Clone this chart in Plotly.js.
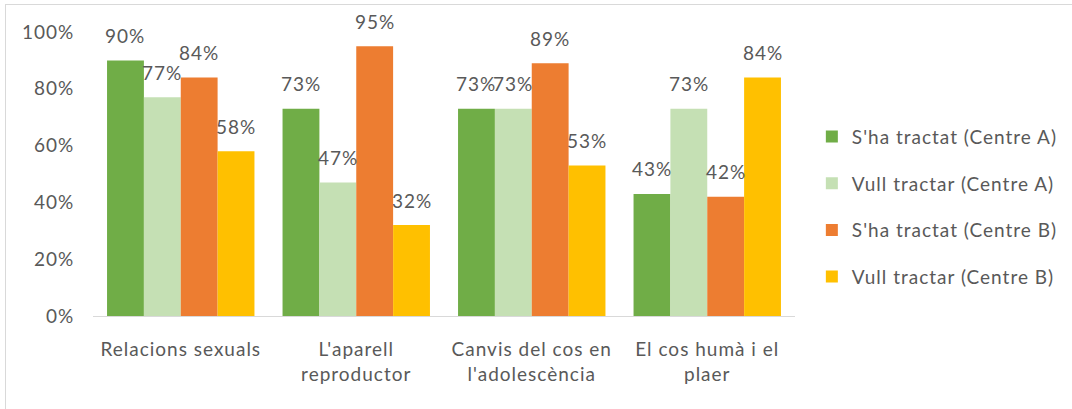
<!DOCTYPE html>
<html>
<head>
<meta charset="utf-8">
<script src="https://cdn.plot.ly/plotly-3.0.1.min.js"></script>
<style>
  html, body { margin: 0; padding: 0; background: #fff; }
  #wrap { position: relative; width: 1072px; height: 409px; overflow: hidden; }
  #chart { position: absolute; left: 0; top: 0; width: 1072px; height: 409px; }
  svg text { letter-spacing: 1px; }
  #frame { position: absolute; left: 5px; top: 4px; width: 1080px; height: 420px;
           border-top: 1px solid #d9d9d9; border-left: 1px solid #d9d9d9; pointer-events: none; }
</style>
</head>
<body>
<div id="wrap"><div id="chart"></div><div id="frame"></div></div>
<script>
const categories = ["Relacions sexuals", "L'aparell<br>reproductor", "Canvis del cos en<br>l'adolescència", "El cos humà i el<br>plaer"];
const seriesNames = ["S'ha tractat (Centre A)", "Vull tractar (Centre A)", "S'ha tractat (Centre B)", "Vull tractar (Centre B)"];
const tractatA = [0.90, 0.73, 0.73, 0.43];
const vullA    = [0.77, 0.47, 0.73, 0.73];
const tractatB = [0.84, 0.95, 0.89, 0.42];
const vullB    = [0.58, 0.32, 0.53, 0.84];
const colors = ["#70ad47", "#c5e0b4", "#ed7d31", "#ffc000"];
const seriesValues = [tractatA, vullA, tractatB, vullB];

const FONT = "Lato, 'Open Sans', sans-serif";
const TXT = "#595959";
const FS = 19;
const bargap = 0.16;
const xIdx = categories.map((c, i) => i);

const traces = seriesValues.map((vals, j) => ({
  type: "bar",
  name: seriesNames[j],
  x: xIdx,
  y: vals,
  legendgroup: "g" + j,
  marker: { color: colors[j] },
  hoverinfo: "skip"
}));

const bw = (1 - bargap) / 4;
const annotations = [];
seriesValues.forEach((vals, j) => {
  vals.forEach((v, i) => {
    annotations.push({
      x: i + (j - 1.5) * bw, y: v, xref: "x", yref: "y",
      text: Math.round(v * 100) + "%",
      showarrow: false, yanchor: "middle", yshift: 25,
      font: { family: FONT, size: FS, color: TXT }
    });
  });
});

const layout = {
  width: 1072, height: 409,
  margin: { l: 93, r: 277, t: 32, b: 93, autoexpand: false },
  paper_bgcolor: "rgba(0,0,0,0)",
  plot_bgcolor: "rgba(0,0,0,0)",
  barmode: "group",
  bargap: bargap,
  bargroupgap: 0,
  font: { family: FONT, size: FS, color: TXT },
  xaxis: {
    tickmode: "array", tickvals: xIdx, ticktext: categories,
    range: [-0.5, 3.5],
    showline: true, linecolor: "#d9d9d9", linewidth: 1,
    ticks: "outside", ticklen: 16, tickcolor: "rgba(0,0,0,0)",
    showgrid: false, zeroline: false, automargin: false,
    tickfont: { family: FONT, size: FS, color: TXT }
  },
  yaxis: {
    range: [0, 1], dtick: 0.2, tickformat: ".0%",
    showgrid: false, zeroline: false, showline: false, automargin: false,
    ticks: "outside", ticklen: 14, tickcolor: "rgba(0,0,0,0)",
    tickfont: { family: FONT, size: FS, color: TXT }
  },
  showlegend: true,
  legend: {
    x: 1.024, xanchor: "left", y: 0.385, yanchor: "middle",
    tracegroupgap: 19, itemclick: false,
    font: { family: FONT, size: FS, color: TXT }
  },
  annotations: annotations
};

Plotly.newPlot("chart", traces, layout, { staticPlot: true, displayModeBar: false });
</script>
</body>
</html>
